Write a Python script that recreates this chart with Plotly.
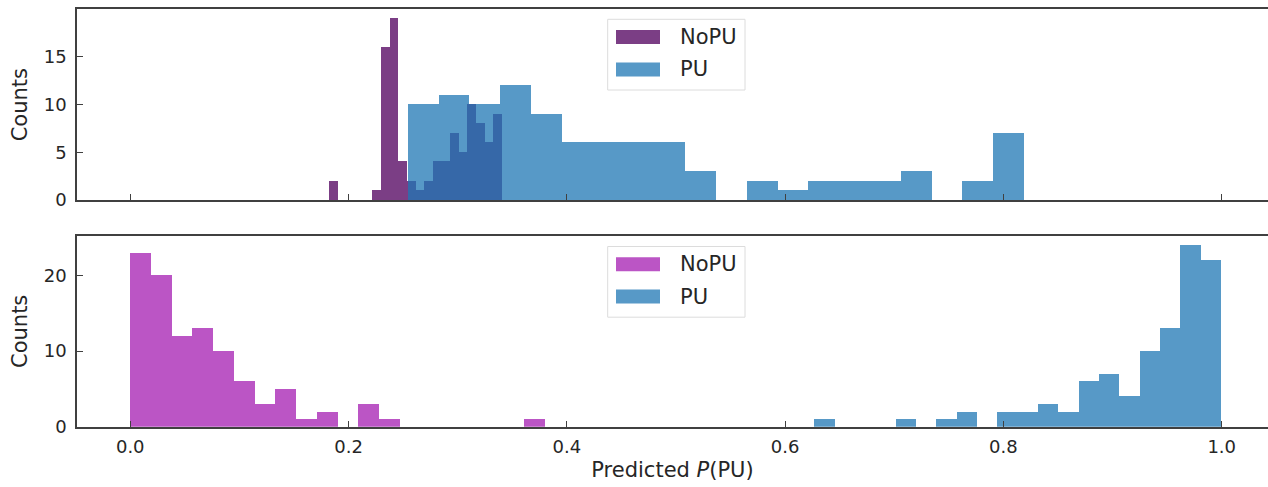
import numpy as np
import plotly.graph_objects as go

# ---------------- data ----------------
series_names = ["NoPU", "PU"]

top_nopu_counts = [2, 0, 0, 0, 0, 1, 16, 19, 4, 2, 1, 2, 4, 4, 7, 5, 10, 8, 6, 9]
top_nopu_range = [0.1823, 0.3405]
top_pu_counts = [10, 11, 10, 12, 9, 6, 6, 6, 6, 3, 0, 2, 1, 2, 2, 2, 3, 0, 2, 7]
top_pu_range = [0.2543, 0.8189]

bot_nopu_counts = [23, 20, 12, 13, 10, 6, 3, 5, 1, 2, 0, 3, 1, 0, 0, 0, 0, 0, 0, 1]
bot_nopu_range = [0.0, 0.380]
bot_pu_counts = [1, 0, 0, 0, 1, 0, 1, 2, 0, 2, 2, 3, 2, 6, 7, 4, 10, 13, 24, 22]
bot_pu_range = [0.6266, 0.9993]

x_ticks = [0.0, 0.2, 0.4, 0.6, 0.8, 1.0]
top_y_ticks = [0, 5, 10, 15]
bot_y_ticks = [0, 10, 20]

# ---------------- styling ----------------
W, H = 1268, 487
FONT = "DejaVu Sans"
TXT = "#262626"
SPINE = "#404040"
C_TOP_NOPU = "rgb(123,62,133)"
C_BOT_NOPU = "rgb(187,85,197)"
C_PU = "rgb(31,119,180)"
PU_ALPHA = 0.75


def px_x(x):
    return x / W


def px_y(y):
    return 1 - y / H


def hist_bar(counts, rng, color, opacity, name, xa, ya):
    edges = np.linspace(rng[0], rng[1], len(counts) + 1)
    centers = (edges[:-1] + edges[1:]) / 2
    widths = np.diff(edges)
    return go.Bar(x=centers, y=counts, width=widths, name=name,
                  marker=dict(color=color, line=dict(width=0)),
                  opacity=opacity, xaxis=xa, yaxis=ya, showlegend=False,
                  hovertemplate="%{x:.3f}: %{y}<extra>" + name + "</extra>")


fig = go.Figure()
fig.add_trace(hist_bar(top_nopu_counts, top_nopu_range, C_TOP_NOPU, 1.0, series_names[0], "x", "y"))
fig.add_trace(hist_bar(top_pu_counts, top_pu_range, C_PU, PU_ALPHA, series_names[1], "x", "y"))
fig.add_trace(hist_bar(bot_nopu_counts, bot_nopu_range, C_BOT_NOPU, 1.0, series_names[0], "x2", "y2"))
fig.add_trace(hist_bar(bot_pu_counts, bot_pu_range, C_PU, PU_ALPHA, series_names[1], "x2", "y2"))

x_range = [-0.0488, 1.0424]
x_dom = [px_x(77), 1.0]
top_dom = [px_y(200), px_y(9.3)]
bot_dom = [px_y(426.7), px_y(236)]

axis_common = dict(showgrid=False, zeroline=False, showline=True, linecolor=SPINE,
                   linewidth=1.5, ticks="inside", ticklen=6, tickwidth=1.3,
                   tickcolor=SPINE, tickfont=dict(family=FONT, size=18, color=TXT),
                   automargin=False)

fig.update_layout(
    width=W, height=H,
    margin=dict(l=0, r=0, t=0, b=0),
    paper_bgcolor="white", plot_bgcolor="white",
    barmode="overlay", bargap=0,
    font=dict(family=FONT, color=TXT),
    xaxis=dict(axis_common, domain=x_dom, range=x_range, anchor="y", mirror=True,
               tickvals=x_ticks, showticklabels=False),
    yaxis=dict(axis_common, domain=top_dom, range=[0, max(top_nopu_counts + top_pu_counts) * 1.05],
               anchor="x", tickvals=top_y_ticks, ticklabelstandoff=5,
               title=dict(text="Counts", font=dict(family=FONT, size=21, color=TXT), standoff=10)),
    xaxis2=dict(axis_common, domain=x_dom, range=x_range, anchor="y2", mirror=True,
                tickvals=x_ticks, ticktext=[f"{v:.1f}" for v in x_ticks], ticklabelstandoff=3,
                title=dict(text="Predicted <i>P</i>(PU)", font=dict(family=FONT, size=21, color=TXT), standoff=6)),
    yaxis2=dict(axis_common, domain=bot_dom, range=[0, max(bot_nopu_counts + bot_pu_counts) * 1.05],
                anchor="x2", tickvals=bot_y_ticks, ticklabelstandoff=5,
                title=dict(text="Counts", font=dict(family=FONT, size=21, color=TXT), standoff=10)),
)

# ---------------- legends (matplotlib-style boxes) ----------------
def add_legend(top_px, nopu_color):
    box_l, box_r = 607.7, 745
    box_t, box_b = top_px, top_px + 70.7
    fig.add_shape(type="rect", xref="paper", yref="paper",
                  x0=px_x(box_l), x1=px_x(box_r), y0=px_y(box_b), y1=px_y(box_t),
                  line=dict(color="#dcdcdc", width=1), fillcolor="rgba(255,255,255,0.8)", layer="above")
    rows = [(series_names[0], nopu_color, 1.0), (series_names[1], C_PU, PU_ALPHA)]
    for i, (name, col, op) in enumerate(rows):
        cy = box_t + 17.8 + i * 32.3
        fig.add_shape(type="rect", xref="paper", yref="paper",
                      x0=px_x(616), x1=px_x(660), y0=px_y(cy + 7), y1=px_y(cy - 7),
                      line=dict(width=0), fillcolor=col, opacity=op, layer="above")
        fig.add_annotation(xref="paper", yref="paper", x=px_x(678), y=px_y(cy),
                           text=name, showarrow=False, xanchor="left", yanchor="middle",
                           font=dict(family=FONT, size=21, color=TXT))


add_legend(19.3, C_TOP_NOPU)
add_legend(246.5, C_BOT_NOPU)

fig.write_html("out.html")
